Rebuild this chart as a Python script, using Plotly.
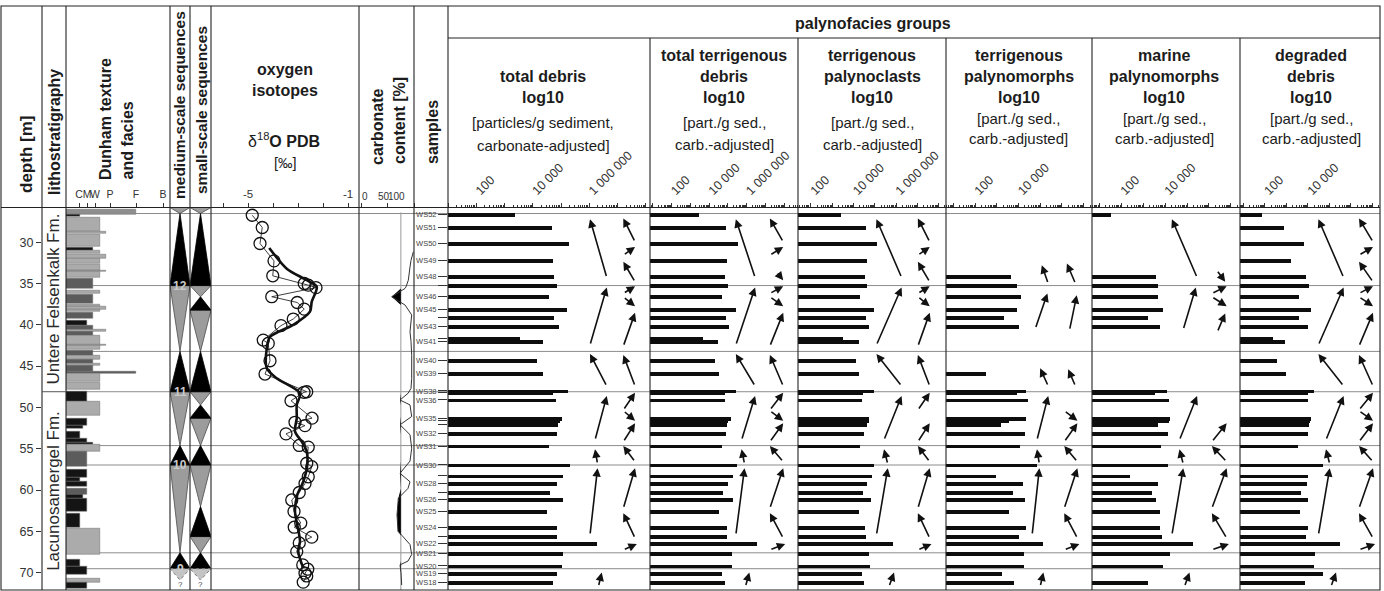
import plotly.graph_objects as go

W, H = 1384, 591
FONT = "Liberation Sans, Arial, Helvetica, sans-serif"
INK = "#1c1c1c"
TICK = "#333333"

# ---------------- data ----------------
DEPTH_TOP = 25.8
DEPTH_BOTTOM = 72.1
DEPTH_TICKS = [30, 35, 40, 45, 50, 55, 60, 65, 70]

FORMATION_NAMES = ["Untere Felsenkalk Fm.", "Lacunosamergel Fm."]
FORMATION_LIMITS = [25.8, 48.1, 72.1]
BOUNDARY_DEPTHS = [26.53, 35.25, 43.22, 48.1, 54.62, 56.97, 67.6, 69.52]

DUNHAM_LABELS = ["C", "M", "W", "P", "F", "B"]
DUNHAM_TICKPOS = [1.625, 2.625, 3.625, 5.5, 8.75, 12.125]
dunham_top = [26.01, 26.65, 27.06, 28.67, 29.07, 30.64, 30.97, 31.49, 31.98, 32.70, 33.39, 33.59, 34.39,
              35.80, 36.33, 37.50, 37.74, 38.10, 38.50, 39.43, 40.04, 40.62, 41.25, 42.35, 43.06, 43.74,
              44.15, 44.67, 44.87, 45.68, 45.88, 46.95, 48.10, 49.31, 51.32, 52.13, 52.93, 53.74, 54.22,
              54.46, 55.35, 57.56, 58.49, 58.97, 59.78, 60.58, 60.99, 62.80, 64.60, 68.43, 69.24, 70.65, 71.25]
dunham_base = [26.65, 26.94, 28.67, 28.95, 30.56, 30.97, 31.37, 31.98, 32.58, 33.39, 33.59, 34.31, 35.60,
               36.21, 37.42, 37.74, 38.10, 38.42, 39.23, 40.04, 41.25, 40.86, 42.93, 42.55, 43.66, 44.15,
               44.67, 44.87, 45.68, 45.88, 46.89, 47.89, 49.31, 51.00, 52.13, 52.61, 53.74, 54.22, 54.46,
               55.35, 57.16, 58.49, 58.97, 59.58, 60.58, 60.99, 62.60, 64.54, 67.83, 69.24, 70.25, 71.25, 71.86]
dunham_texture = [8.8, 1.75, 4.2, 5.0, 4.2, 3.4, 4.25, 5.0, 4.2, 4.25, 5.0, 4.2, 3.34, 4.2, 3.34, 4.2, 5.0,
                  4.2, 3.34, 2.6, 3.34, 5.0, 4.2, 5.0, 3.34, 4.2, 3.34, 4.2, 3.34, 8.8, 4.2, 4.2, 2.6, 4.2,
                  2.6, 2.16, 1.75, 2.6, 3.4, 4.2, 2.6, 2.6, 1.75, 2.6, 2.6, 2.16, 2.6, 1.75, 4.2, 1.75, 2.6,
                  4.2, 2.6]
dunham_facies = ["G", "K", "L", "L", "L", "K", "L", "L", "L", "L", "L", "L", "D", "L", "D", "L", "L", "L",
                 "D", "K", "D", "L", "L", "L", "D", "L", "D", "L", "D", "D", "L", "L", "K", "L", "K", "K",
                 "K", "K", "K", "L", "D", "K", "K", "K", "D", "K", "K", "K", "L", "K", "K", "L", "K"]
FACIES_COLORS = {"L": "#ababab", "D": "#5c5c5c", "K": "#141414", "G": "#8e8e8e"}

MEDIUM_BOUNDS = [25.8, 26.53, 35.25, 43.22, 48.1, 54.62, 56.97, 67.6, 69.52]
SMALL_BOUNDS = [25.8, 26.53, 35.25, 36.61, 38.22, 43.22, 48.1, 49.7, 51.3, 54.62, 56.97, 62.0, 65.63, 67.6, 69.52]
SEQ_UNCERTAIN = [69.52, 70.9]
MEDIUM_SB_NAMES = ["12", "11", "10", "9"]
MEDIUM_SB_DEPTHS = [35.25, 48.1, 56.97, 69.52]

iso_depth = [26.74, 28.22, 30.16, 32.26, 34.07, 35.00, 35.20, 35.50, 36.60, 37.30, 38.10, 39.30, 40.10,
             41.85, 42.25, 44.35, 45.96, 48.10, 48.17, 49.19, 51.30, 51.80, 52.20, 53.20, 54.60, 54.80,
             56.76, 57.17, 58.40, 59.20, 60.30, 61.20, 62.60, 64.00, 64.50, 65.70, 66.40, 67.45, 69.06,
             69.58, 70.06, 70.40, 71.15]
iso_d18o = [-4.83, -4.43, -4.52, -3.96, -4.01, -2.75, -2.59, -2.28, -4.05, -3.03, -2.75, -3.19, -3.68,
            -4.39, -4.19, -4.12, -4.32, -2.65, -2.76, -3.28, -2.44, -3.12, -2.72, -3.48, -2.95, -2.59,
            -2.65, -2.45, -2.59, -2.72, -2.95, -3.25, -3.16, -2.89, -3.15, -2.45, -2.95, -3.05, -2.81,
            -2.61, -2.72, -2.65, -2.79]
iso_mean_depth = [30.7, 33.2, 34.6, 35.4, 37.2, 38.4, 40.0, 41.45, 42.85, 45.27, 46.48, 48.3, 49.7, 51.3,
                  52.9, 54.15, 55.35, 57.0, 59.0, 60.6, 62.6, 64.2, 66.2, 67.45, 69.45]
iso_mean = [-4.15, -3.45, -2.65, -2.25, -2.45, -2.52, -3.19, -4.12, -4.25, -4.25, -3.85, -2.92, -3.05,
            -3.05, -3.12, -2.85, -2.65, -2.63, -2.79, -3.03, -3.12, -3.03, -2.92, -2.99, -2.79]

carb_depth = [31.17, 32.2, 33.0, 34.6, 35.4, 35.6, 36.6, 37.6, 38.8, 40.85, 42.0, 43.7, 46.5, 47.7, 48.3,
              49.1, 49.7, 51.1, 52.1, 53.3, 54.95, 56.5, 57.97, 59.0, 59.8, 61.0, 63.0, 65.0, 65.5, 66.6,
              67.8, 68.6, 69.06, 70.0, 71.5]
carb_value = [98.7, 94.3, 92.4, 89.2, 84.8, 82.9, 57.6, 82.9, 95.6, 92.4, 94.3, 95.6, 95.6, 94.3, 88.6,
              73.4, 92.4, 95.6, 73.4, 92.4, 95.6, 92.4, 73.4, 92.4, 88.6, 70.2, 67.7, 69.6, 77.2, 92.4,
              95.6, 88.6, 73.4, 75.3, 76.6]
CARB_REF = 75
CARB_TICKS = [0, 50, 100]

sample_names = ["WS52", "WS51", "WS50", "WS49", "WS48", "WS47", "WS46", "WS45", "WS44", "WS43", "WS42",
                "WS41", "WS40", "WS39", "WS38", "WS37", "WS36", "WS35", "WS34", "WS33", "WS32", "WS31",
                "WS30", "WS29", "WS28", "WS27", "WS26", "WS25", "WS24", "WS23", "WS22", "WS21", "WS20",
                "WS19", "WS18"]
sample_depth = [26.65, 28.22, 30.16, 32.18, 34.11, 35.20, 36.61, 38.14, 39.10, 40.24, 41.64, 42.03, 44.35,
                45.88, 48.00, 48.20, 49.10, 51.37, 51.61, 52.04, 53.13, 54.67, 56.96, 58.30, 59.18, 60.31,
                61.11, 62.61, 64.50, 65.63, 66.43, 67.64, 69.18, 70.14, 71.15]
samples_unlabeled = ["WS47", "WS44", "WS42", "WS37", "WS34", "WS33", "WS29", "WS27", "WS23"]

# palynofacies, log10 particles per g sediment (carbonate-adjusted)
total_debris = [3.37, 4.69, 5.29, 4.73, 4.75, 4.87, 4.59, 5.20, 4.75, 4.94, 3.55, 4.35, 4.16, 4.37, 5.24,
                4.73, 4.82, 5.02, 4.96, 4.88, 4.85, 4.59, 5.32, 5.08, 4.87, 4.61, 5.08, 4.49, 4.85, 4.85,
                6.29, 5.06, 5.05, 4.85, 4.71]
terr_debris = [3.46, 4.90, 5.56, 4.94, 4.85, 5.03, 4.67, 5.44, 4.90, 5.08, 3.66, 4.49, 4.32, 4.55, 5.44,
               4.85, 4.85, 5.15, 5.03, 4.94, 4.90, 4.67, 5.47, 5.29, 5.03, 4.76, 5.29, 4.55, 4.94, 4.97,
               6.57, 5.21, 5.21, 4.67, 4.85]
terr_palynoclasts = [3.41, 4.59, 5.09, 4.62, 4.54, 4.65, 4.31, 4.98, 4.59, 4.72, 3.52, 4.27, 4.12, 4.27,
                     4.98, 4.43, 4.42, 4.72, 4.72, 4.65, 4.51, 4.31, 4.98, 4.89, 4.65, 4.43, 4.83, 4.26,
                     4.54, 4.59, 5.87, 4.75, 4.78, 4.39, 4.50]
terr_palynomorphs = [None, None, None, None, 3.64, 3.95, 4.10, 3.95, 3.33, 4.02, None, None, None, 2.49,
                     4.35, 3.95, 4.45, 4.35, 3.58, 3.18, 4.30, 4.07, 4.84, 2.95, 4.19, 3.73, 4.30, 3.55,
                     4.35, 4.04, 5.12, 4.25, 4.25, 3.23, 3.79]
marine_palynomorphs = [1.50, None, None, None, 3.59, 3.69, 3.69, 3.92, 3.21, 3.77, None, None, None, None,
                       4.10, 3.54, 4.18, 4.23, 4.19, 3.69, 4.15, 3.82, 4.15, 2.41, 3.69, 3.39, 3.59, 3.77,
                       3.77, 3.88, 5.28, 4.23, 3.89, None, 3.24]
degraded_debris = [1.82, 2.90, 3.83, 3.20, 3.90, 4.06, 3.58, 4.13, 3.60, 4.02, 2.34, 2.93, 2.55, 2.98,
                   4.30, 4.02, 4.02, 4.13, 4.10, 4.05, 4.02, 3.55, 4.71, 4.02, 3.94, 3.66, 4.02, 3.63,
                   4.02, 3.90, 5.49, 4.33, 4.28, 4.71, 3.86]

# trend arrows: (tail depth, head depth, tail position, head position) within an arrow column
TRENDS = {
    "L1": (34.27, 27.22, 1.0, 0.0), "L2": (42.45, 35.48, 0.0, 1.0), "L3": (47.41, 43.54, 1.0, 0.0),
    "L4": (53.94, 48.62, 0.3, 1.0), "L5": (56.84, 55.07, 0.45, 0.3), "L6": (65.43, 57.36, 0.0, 0.45),
    "L7": (71.68, 69.99, 0.5, 0.7),
    "S1": (29.96, 27.13, 1.0, 0.0), "S2": (31.57, 30.57, 0.0, 1.0), "S3": (34.8, 32.38, 1.0, 0.0),
    "S4": (36.2, 35.32, 0.0, 1.0), "S5": (36.61, 37.74, 0.0, 1.0), "S6": (42.58, 38.55, 0.0, 1.0),
    "S7": (47.41, 43.66, 1.0, 0.0), "S8": (50.31, 48.22, 0.0, 1.0), "S9": (50.4, 51.61, 0.0, 1.0),
    "S10": (54.15, 51.92, 0.0, 1.0), "S11": (56.57, 54.67, 1.0, 0.0), "S12": (62.2, 57.36, 0.0, 1.0),
    "S13": (65.83, 62.8, 1.0, 0.0), "S14": (67.24, 66.52, 0.0, 1.15),
    "S3b": (33.6, 34.6, 0.5, 1.0),
    "L1m": (34.99, 32.78, 1.0, 0.6), "L2m": (40.44, 36.2, 0.2, 0.95), "L3m": (47.41, 45.27, 1.0, 0.5),
    "S3m": (35.0, 32.58, 0.85, 0.2), "S6m": (40.64, 36.41, 0.4, 0.95), "S7m": (47.41, 45.39, 0.85, 0.3),
    "L2p": (40.56, 35.48, 0.45, 0.95), "S3p": (33.39, 34.8, 0.33, 0.9), "S6p": (40.85, 38.62, 0.37, 0.9),
}
ALL_L = ["L1", "L2", "L3", "L4", "L5", "L6", "L7"]
ALL_S = ["S1", "S2", "S3", "S4", "S5", "S6", "S7", "S8", "S9", "S10", "S11", "S12", "S13", "S14"]

PANELS = [
    dict(title=["total debris", "log10"], unit=["[particles/g sediment,", "carbonate-adjusted]"],
         values=total_debris, rng=(1.0, 8.15), span=(448, 650), labels=[2, 4, 6],
         lcol=(0.703, 0.786), scol=(0.868, 0.926), arrows=ALL_L + ALL_S, tx=543, ty=[76, 98, 122, 145]),
    dict(title=["total terrigenous", "debris", "log10"], unit=["[part./g sed.,", "carb.-adjusted]"],
         values=terr_debris, rng=(0.85, 8.74), span=(650, 798), labels=[2, 4, 6],
         lcol=(0.58, 0.71), scol=(0.81, 0.90),
         arrows=ALL_L + ["S1", "S2", "S3b"] + ALL_S[3:], tx=724, ty=[55, 76, 97, 122, 144]),
    dict(title=["terrigenous", "palynoclasts", "log10"], unit=["[part./g sed.,", "carb.-adjusted]"],
         values=terr_palynoclasts, rng=(1.39, 8.35), span=(798, 946), labels=[2, 4, 6],
         lcol=(0.53, 0.70), scol=(0.81, 0.89),
         arrows=ALL_L + [s for s in ALL_S if s != "S9"], tx=872, ty=[55, 76, 97, 122, 144]),
    dict(title=["terrigenous", "palynomorphs", "log10"], unit=["[part./g sed.,", "carb.-adjusted]"],
         values=terr_palynomorphs, rng=(0.66, 7.39), span=(946, 1092), labels=[2, 4],
         lcol=(0.59, 0.70), scol=(0.81, 0.90),
         arrows=["L1m", "L2m", "L3m", "L4", "L5", "L6", "L7", "S3m", "S6m", "S7m", "S9", "S10", "S11",
                 "S12", "S13", "S14"], tx=1019, ty=[55, 76, 97, 118, 138]),
    dict(title=["marine", "palynomorphs", "log10"], unit=["[part./g sed.,", "carb.-adjusted]"],
         values=marine_palynomorphs, rng=(0.68, 7.41), span=(1092, 1240), labels=[2, 4],
         lcol=(0.54, 0.71), scol=(0.81, 0.91),
         arrows=["L1", "L2p", "L4", "L5", "L6", "L7", "S3p", "S4", "S5", "S6p", "S10", "S11", "S12",
                 "S13", "S14"], tx=1164, ty=[55, 76, 97, 118, 138]),
    dict(title=["degraded", "debris", "log10"], unit=["[part./g sed.,", "carb.-adjusted]"],
         values=degraded_debris, rng=(0.84, 7.35), span=(1240, 1380), labels=[2, 4],
         lcol=(0.56, 0.74), scol=(0.85, 0.95), arrows=ALL_L + ALL_S, tx=1311, ty=[55, 76, 97, 118, 138]),
]
DECADE_LABELS = {2: "100", 4: "10 000", 6: "1 000 000"}

# ---------------- figure ----------------
Y_DOMAIN = [1 - 590 / H, 1 - 207.5 / H]
fig = go.Figure()
layout = dict(width=W, height=H, margin=dict(l=0, r=0, t=0, b=0), paper_bgcolor="white",
              plot_bgcolor="white", showlegend=False, font=dict(family=FONT, color=INK))
annotations, shapes = [], []


def xaxis(idx, x0, x1, **kw):
    d = dict(domain=[x0 / W, x1 / W], anchor="y", side="top", showgrid=False, zeroline=False,
             showline=False, ticks="", showticklabels=False, tickcolor=TICK, tickwidth=1)
    d.update(kw)
    layout["xaxis" if idx == 1 else f"xaxis{idx}"] = d
    return "x" if idx == 1 else f"x{idx}"


xl = xaxis(1, 42, 66, range=[0, 1])
xd = xaxis(2, 66, 170, range=[0, 13], ticks="outside", ticklen=4, showticklabels=True, tickangle=0,
           tickvals=DUNHAM_TICKPOS, ticktext=DUNHAM_LABELS, tickfont=dict(family=FONT, size=10.5, color=TICK))
xm = xaxis(3, 170, 190, range=[0, 1])
xs = xaxis(4, 190, 211, range=[0, 1])
xo = xaxis(5, 211, 359, range=[-6.48, -0.56], ticks="outside", ticklen=4, showticklabels=True, tickangle=0,
           tickvals=[-6, -5, -4, -3, -2, -1], ticktext=["", "-5", "", "", "", "-1"],
           tickfont=dict(family=FONT, size=11.5, color=TICK))
xc = xaxis(6, 359, 414, range=[-4.56, 100], ticks="outside", ticklen=4, tickvals=CARB_TICKS)

layout["yaxis"] = dict(domain=Y_DOMAIN, range=[DEPTH_BOTTOM, DEPTH_TOP], anchor="x", showgrid=False,
                       zeroline=False, showline=False, ticks="outside", ticklen=5, tickcolor=TICK,
                       tickvals=DEPTH_TICKS, tickfont=dict(family=FONT, size=12.5, color=TICK))


def label(x, y, text, xref, yref, size, color=INK, angle=0):
    annotations.append(dict(x=x, y=y, xref=xref, yref=yref, text=text, showarrow=False, textangle=angle,
                            xanchor="center", yanchor="middle",
                            font=dict(family=FONT, size=size, color=color)))


# lithostratigraphy helper trace so the subplot exists
fig.add_trace(go.Scatter(x=[0.5], y=[DEPTH_TOP + 1], xaxis=xl, yaxis="y", mode="markers",
                         marker=dict(opacity=0), hoverinfo="skip"))
for i, name in enumerate(FORMATION_NAMES):
    mid = (FORMATION_LIMITS[i] + FORMATION_LIMITS[i + 1]) / 2
    label(0.5, mid, name, xl, "y", 17, "#2a2a2a", -90)

# Dunham texture bars
fig.add_trace(go.Bar(
    orientation="h", xaxis=xd, yaxis="y",
    y=[(a + b) / 2 for a, b in zip(dunham_top, dunham_base)],
    width=[b - a for a, b in zip(dunham_top, dunham_base)],
    x=dunham_texture, base=0,
    marker=dict(color=[FACIES_COLORS[f] for f in dunham_facies], line=dict(width=0.5, color="#6a6a6a")),
    hoverinfo="skip"))


# sequence triangles
def triangles(bounds):
    bx, by, gx, gy = [], [], [], []
    for i in range(len(bounds) - 1):
        top, bot = bounds[i], bounds[i + 1]
        if i % 2 == 1:
            bx += [0.5, 1, 0, 0.5, None]
            by += [top, bot, bot, top, None]
        else:
            gx += [0, 1, 0.5, 0, None]
            gy += [top, top, bot, top, None]
    return bx, by, gx, gy


for bounds, xa in ((MEDIUM_BOUNDS, xm), (SMALL_BOUNDS, xs)):
    bx, by, gx, gy = triangles(bounds)
    fig.add_trace(go.Scatter(x=gx, y=gy, xaxis=xa, yaxis="y", mode="lines", fill="toself",
                             fillcolor="#9c9c9c", line=dict(color="#4a4a4a", width=0.8), hoverinfo="skip"))
    fig.add_trace(go.Scatter(x=bx, y=by, xaxis=xa, yaxis="y", mode="lines", fill="toself",
                             fillcolor="#000000", line=dict(color="#000000", width=0.8), hoverinfo="skip"))
    u0, u1 = SEQ_UNCERTAIN
    fig.add_trace(go.Scatter(x=[0, 1, 0.5, 0], y=[u0, u0, u1, u0], xaxis=xa, yaxis="y", mode="lines",
                             fill="toself", fillcolor="#c4c4c4", line=dict(color="#7a7a7a", width=1, dash="dot"),
                             hoverinfo="skip"))
    label(0.5, u1 + 0.55, "?", xa, "y", 8, "#444")
for name, d in zip(MEDIUM_SB_NAMES, MEDIUM_SB_DEPTHS):
    label(0.5, d, f"<b>{name}</b>", xm, "y", 12, "#c8c8c8")

# oxygen isotopes
fig.add_trace(go.Scatter(x=iso_d18o, y=iso_depth, xaxis=xo, yaxis="y", mode="lines+markers",
                         line=dict(color="#2a2a2a", width=0.9),
                         marker=dict(symbol="circle-open", size=12, color="#111", line=dict(width=1.3)),
                         hoverinfo="skip"))
fig.add_trace(go.Scatter(x=iso_mean, y=iso_mean_depth, xaxis=xo, yaxis="y", mode="lines",
                         line=dict(color="#111", width=2.6, shape="spline", smoothing=0.8), hoverinfo="skip"))

# carbonate content
shapes.append(dict(type="line", xref=xc, yref="y", x0=CARB_REF, x1=CARB_REF, y0=DEPTH_TOP + 0.6,
                   y1=DEPTH_BOTTOM, line=dict(color="#9a9a9a", width=1), layer="below"))
fig.add_trace(go.Scatter(x=[CARB_REF] * len(carb_depth), y=carb_depth, xaxis=xc, yaxis="y", mode="lines",
                         line=dict(width=0, color="rgba(0,0,0,0)"), hoverinfo="skip"))
fig.add_trace(go.Scatter(x=[min(v, CARB_REF) for v in carb_value], y=carb_depth, xaxis=xc, yaxis="y",
                         mode="lines", fill="tonextx", fillcolor="#000", line=dict(width=0, color="rgba(0,0,0,0)"),
                         hoverinfo="skip"))
fig.add_trace(go.Scatter(x=carb_value, y=carb_depth, xaxis=xc, yaxis="y", mode="lines",
                         line=dict(color="#333", width=1), hoverinfo="skip"))
for v, xpx in zip(CARB_TICKS, [365, 383.5, 396.5]):
    label(xpx / W, 1 - 197 / H, str(v), "paper", "paper", 10, TICK)

# palynofacies panels
minor_vals = [m * 10 ** k for k in range(0, 9) for m in range(2, 10)]
for pi, p in enumerate(PANELS):
    idx = 7 + pi
    lo, hi = p["rng"]
    xa = xaxis(idx, p["span"][0], p["span"][1], type="log", range=[lo, hi], ticks="outside", ticklen=4,
               showticklabels=True, tickvals=[10 ** k for k in range(1, 9)],
               ticktext=[DECADE_LABELS[k] if k in p["labels"] else "" for k in range(1, 9)],
               tickangle=-45, tickfont=dict(family=FONT, size=12.5, color=TICK),
               minor=dict(tickvals=minor_vals, ticks="outside", ticklen=2, tickcolor=TICK, showgrid=False))
    xs_vals = [None if v is None else 10 ** v for v in p["values"]]
    fig.add_trace(go.Bar(orientation="h", xaxis=xa, yaxis="y", y=sample_depth, x=xs_vals,
                         base=10 ** lo, width=0.45, marker=dict(color="#0d0d0d", line=dict(width=0)),
                         hoverinfo="skip"))
    if pi == 0:
        fig.add_trace(go.Scatter(x=[10 ** (lo + 0.5)] * len(sample_depth), y=sample_depth, xaxis=xa,
                                 yaxis="y2", mode="markers", marker=dict(opacity=0), hoverinfo="skip"))
        layout["yaxis2"] = dict(overlaying="y", anchor=xa, side="left", range=[DEPTH_BOTTOM, DEPTH_TOP],
                                showgrid=False, zeroline=False, showline=False, ticks="outside", ticklen=9,
                                tickcolor=TICK, tickvals=sample_depth,
                                ticktext=["" if n in samples_unlabeled else n for n in sample_names],
                                tickfont=dict(family=FONT, size=7.5, color="#444"))
    # trend arrows
    for key in p["arrows"]:
        td, hd, tu, hu = TRENDS[key]
        c0, c1 = p["lcol"] if key.startswith("L") else p["scol"]
        tf = c0 + tu * (c1 - c0)
        hf = c0 + hu * (c1 - c0)
        annotations.append(dict(x=lo + hf * (hi - lo), y=hd, ax=lo + tf * (hi - lo), ay=td, xref=xa, yref="y",
                                axref=xa, ayref="y", text="", showarrow=True, arrowhead=2, arrowsize=1.05,
                                arrowwidth=1.6, arrowcolor="#111", standoff=0, startstandoff=0))
    # header text
    lines = p["title"] + p["unit"]
    nb = len(p["title"])
    for li, (t, yy) in enumerate(zip(lines, p["ty"])):
        bold = li < nb
        label(p["tx"] / W, 1 - yy / H, f"<b>{t}</b>" if bold else t, "paper", "paper", 16 if bold else 15)


# ---------------- header labels ----------------
def txt(x, y, text, size=16, bold=True, angle=0):
    label(x / W, 1 - y / H, f"<b>{text}</b>" if bold else text, "paper", "paper", size, INK, angle)


txt(27, 155, "depth [m]", 17, True, -90)
txt(54, 132, "lithostratigraphy", 16, True, -90)
txt(106, 119, "Dunham texture", 16, True, -90)
txt(127.5, 141, "and facies", 16, True, -90)
txt(180, 105, "medium-scale sequences", 15.5, True, -90)
txt(201, 110, "small-scale sequences", 15.5, True, -90)
txt(285, 70, "oxygen", 16)
txt(285, 91, "isotopes", 16)
txt(284, 140, "δ<sup>18</sup><b>O PDB</b>", 16, False)
txt(285, 163, "[‰]", 14.5, False)
txt(378, 127, "carbonate", 16, True, -90)
txt(399, 121, "content [%]", 16, True, -90)
txt(432, 132, "samples", 16, True, -90)
txt(873, 23, "palynofacies groups", 16)


# ---------------- frame and boundary lines ----------------
def px(x): return x / W
def py(y): return 1 - y / H


frame = dict(color="#222", width=1.1)
shapes.append(dict(type="rect", xref="paper", yref="paper", x0=px(1), x1=px(1380), y0=py(590), y1=py(6),
                   line=frame))
shapes.append(dict(type="line", xref="paper", yref="paper", x0=px(1), x1=px(1380), y0=py(207.5),
                   y1=py(207.5), line=frame))
shapes.append(dict(type="line", xref="paper", yref="paper", x0=px(448), x1=px(1380), y0=py(38), y1=py(38),
                   line=frame))
for xv in [42, 66, 170, 190, 211, 359, 414, 448]:
    shapes.append(dict(type="line", xref="paper", yref="paper", x0=px(xv), x1=px(xv), y0=py(590), y1=py(6),
                       line=frame))
for xv in [650, 798, 946, 1092, 1240]:
    shapes.append(dict(type="line", xref="paper", yref="paper", x0=px(xv), x1=px(xv), y0=py(590), y1=py(38),
                       line=frame))
for d in BOUNDARY_DEPTHS:
    shapes.append(dict(type="line", xref="paper", yref="y", x0=px(66), x1=px(1380), y0=d, y1=d,
                       line=dict(color="#8c8c8c", width=1), layer="below"))
shapes.append(dict(type="line", xref="paper", yref="y", x0=px(42), x1=px(66), y0=FORMATION_LIMITS[1],
                   y1=FORMATION_LIMITS[1], line=dict(color="#555", width=1)))

layout["annotations"] = annotations
layout["shapes"] = shapes
layout["bargap"] = 0
fig.update_layout(**layout)
fig.write_html("out.html", config={"displayModeBar": False},
               post_script="document.body.style.margin='0px';document.body.style.overflow='hidden';")
